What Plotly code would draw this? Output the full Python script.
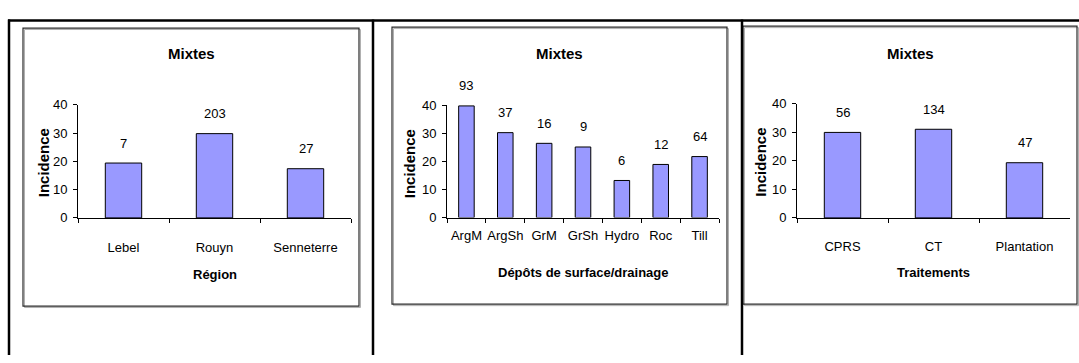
import plotly.graph_objects as go

# ---- data -------------------------------------------------------------
regions = ["Lebel", "Rouyn", "Senneterre"]
region_incidence = [19.4, 29.8, 17.4]
region_n = [7, 203, 27]

depots = ["ArgM", "ArgSh", "GrM", "GrSh", "Hydro", "Roc", "Till"]
depot_incidence = [39.7, 30.2, 26.4, 25.1, 13.2, 18.9, 21.7]
depot_n = [93, 37, 16, 9, 6, 12, 64]

traitements = ["CPRS", "CT", "Plantation"]
traitement_incidence = [29.9, 31.0, 19.3]
traitement_n = [56, 134, 47]

chart_title = "Mixtes"
y_title = "Incidence"
y_ticks = [0, 10, 20, 30, 40]

# ---- page geometry (pixels) ------------------------------------------
W, H = 1079, 363
FONT = "Liberation Sans, Arial, sans-serif"
BAR_FILL = "#9999FF"


def px(x):
    return x / W


def py(y):
    return 1 - y / H


panels = [
    dict(cats=regions, vals=region_incidence, n=region_n, xtitle="Région",
         plot=(78, 351, 102, 220), frame=(23, 359, 22, 312), title_x=191,
         tick_standoff=17, xtitle_y=279, ytitle_x=43),
    dict(cats=depots, vals=depot_incidence, n=depot_n,
         xtitle="Dépôts de surface/drainage",
         plot=(447, 719, 102.3, 219.7), frame=(392, 727, 21, 310), title_x=560,
         tick_standoff=6, xtitle_y=277, ytitle_x=409),
    dict(cats=traitements, vals=traitement_incidence, n=traitement_n,
         xtitle="Traitements",
         plot=(797, 1070, 100.7, 220), frame=(743, 1077, 20, 310), title_x=910,
         tick_standoff=16, xtitle_y=277, ytitle_x=761),
]

fig = go.Figure()
shapes = []
annotations = []

for i, p in enumerate(panels, start=1):
    xa = "x" if i == 1 else f"x{i}"
    ya = "y" if i == 1 else f"y{i}"
    x0, x1, ytop, ybot = p["plot"]

    fig.add_trace(go.Bar(
        x=p["cats"], y=p["vals"], xaxis=xa, yaxis=ya, width=0.4,
        marker=dict(color=BAR_FILL, line=dict(color="#000000", width=1)),
        hoverinfo="x+y", showlegend=False,
    ))

    fig.update_layout(**{
        ("xaxis" if i == 1 else f"xaxis{i}"): dict(
            domain=[px(x0), px(x1)], anchor=ya, type="category",
            range=[-0.5, len(p["cats"]) - 0.5],
            showline=True, linecolor="#000000", linewidth=1,
            ticks="outside", ticklen=4, tickcolor="#000000", tickwidth=1,
            tickson="boundaries", showgrid=False, zeroline=False,
            tickangle=0, ticklabelstandoff=p["tick_standoff"],
            tickfont=dict(family=FONT, size=13, color="#000000"),
            fixedrange=True,
        ),
        ("yaxis" if i == 1 else f"yaxis{i}"): dict(
            domain=[py(ybot), py(ytop)], anchor=xa, range=[0, 40],
            tickvals=y_ticks, showline=True, linecolor="#000000", linewidth=1,
            ticks="outside", ticklen=4, tickcolor="#000000", tickwidth=1,
            showgrid=False, zeroline=False, ticklabelstandoff=3,
            tickfont=dict(family=FONT, size=13, color="#000000"),
            fixedrange=True,
        ),
    })

    # sample sizes above the bars
    for c, v, n in zip(p["cats"], p["vals"], p["n"]):
        annotations.append(dict(
            x=c, y=v, xref=xa, yref=ya, text=str(n), showarrow=False,
            yanchor="middle", yshift=20,
            font=dict(family=FONT, size=13, color="#000000"),
        ))

    # chart title, axis titles
    fx0, fx1, fy0, fy1 = p["frame"]
    annotations.append(dict(
        x=px(p["title_x"]), y=py(48), xref="paper", yref="paper",
        text=f"<b>{chart_title}</b>", showarrow=False,
        xanchor="center", yanchor="middle",
        font=dict(family=FONT, size=15, color="#000000"),
    ))
    annotations.append(dict(
        x=px((x0 + x1) / 2), y=py(p["xtitle_y"]), xref="paper", yref="paper",
        text=f"<b>{p['xtitle']}</b>", showarrow=False,
        xanchor="center", yanchor="middle",
        font=dict(family=FONT, size=13, color="#000000"),
    ))
    annotations.append(dict(
        x=px(p["ytitle_x"]), y=py((ytop + ybot) / 2 + 2), xref="paper",
        yref="paper", text=f"<b>{y_title}</b>", showarrow=False,
        textangle=-90, xanchor="center", yanchor="middle",
        font=dict(family=FONT, size=15, color="#000000"),
    ))

    # chart frame with a soft shadow
    shapes.append(dict(type="rect", xref="paper", yref="paper",
                       x0=px(fx0 + 1.5), x1=px(fx1 + 1.5),
                       y0=py(fy1 + 1.5), y1=py(fy0 + 1.5),
                       line=dict(color="#B0B0B0", width=1), layer="below"))
    shapes.append(dict(type="rect", xref="paper", yref="paper",
                       x0=px(fx0), x1=px(fx1), y0=py(fy1), y1=py(fy0),
                       line=dict(color="#2A2A2A", width=1.2), layer="below"))

# surrounding table rules
rule = dict(color="#000000", width=2.5)
shapes.append(dict(type="line", xref="paper", yref="paper",
                   x0=px(8), x1=1, y0=py(14), y1=py(14), line=rule))
for xv in (9, 373, 742):
    shapes.append(dict(type="line", xref="paper", yref="paper",
                       x0=px(xv), x1=px(xv), y0=py(13), y1=0, line=rule))

fig.update_layout(
    width=W, height=H, autosize=False,
    margin=dict(l=0, r=0, t=0, b=0, pad=0),
    paper_bgcolor="#FFFFFF", plot_bgcolor="rgba(0,0,0,0)",
    bargap=0.6, showlegend=False,
    shapes=shapes, annotations=annotations,
)

fig.write_html("out.html", config={"displayModeBar": False})
